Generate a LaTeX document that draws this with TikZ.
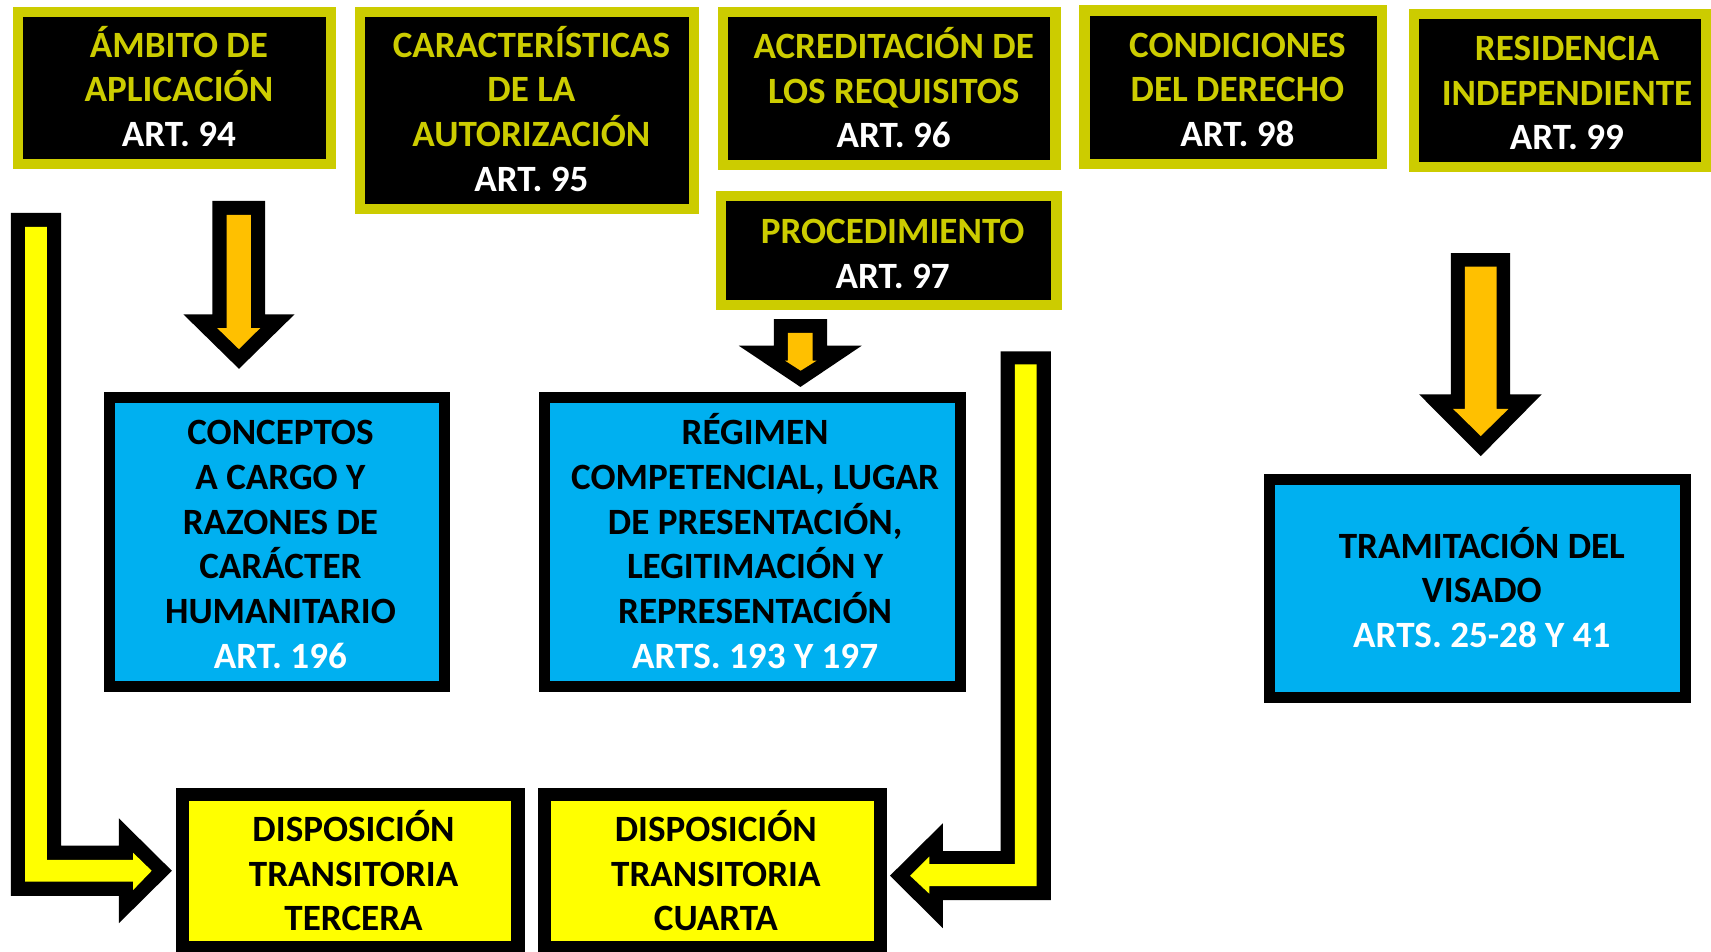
\documentclass[tikz,border=0pt]{standalone}
\usepackage{fontspec}
\setmainfont{Carlito}
\definecolor{ybord}{RGB}{204,204,0}
\definecolor{orng}{RGB}{255,192,0}
\definecolor{skyb}{RGB}{0,176,240}
\definecolor{yell}{RGB}{255,255,0}
\newcommand{\tstr}{\rule{0pt}{31.9pt}}
\newcommand{\bstr}{\rule[-10pt]{0pt}{10pt}}
\begin{document}
\begin{tikzpicture}[x=1pt,y=-1pt,
  topbox/.style={draw=ybord, fill=black, line width=9.5pt, inner sep=0pt},
  bluebox/.style={draw=black, fill=skyb, line width=10pt, inner sep=0pt},
  dtbox/.style={draw=black, fill=yell, line width=12.5pt, inner sep=0pt},
  txt/.style={align=center, inner sep=0pt, yshift=-1.5pt, font=\fontsize{34}{41}\selectfont\bfseries},
  toptxt/.style={txt, text=ybord},
  blktxt/.style={txt, text=black},
  outline/.style={fill=black},
  orfill/.style={fill=orng},
  yefill/.style={fill=yell}]
\fill[white] (0,0) rectangle (1568,872);
\useasboundingbox (0,0) rectangle (1568,872);

% top boxes
\node[topbox, minimum width=286.5pt, minimum height=139.5pt] (b1) at (160,80.5) {};
\node[topbox, minimum width=306.5pt, minimum height=180.5pt] (b2) at (483,101) {};
\node[topbox, minimum width=304.5pt, minimum height=140.5pt] (b3) at (815,81) {};
\node[topbox, minimum width=272.5pt, minimum height=140.5pt] (b4) at (1130,80) {};
\node[topbox, minimum width=267.5pt, minimum height=140.5pt] (b5) at (1429.5,83) {};
\node[topbox, minimum width=307.5pt, minimum height=99.5pt] (b6) at (814.5,229.5) {};

\node[toptxt] (t1) at (164,81) {\tstr ÁMBITO DE\\APLICACIÓN\\\textcolor{white}{ART. 94}\bstr};
\node[toptxt] (t2) at (487,101.5) {\tstr CARACTERÍSTICAS\\DE LA\\AUTORIZACIÓN\\\textcolor{white}{ART. 95}\bstr};
\node[toptxt] (t3) at (819,82) {\tstr ACREDITACIÓN DE\\LOS REQUISITOS\\\textcolor{white}{ART. 96}\bstr};
\node[toptxt] (t4) at (1134,81) {\tstr CONDICIONES\\DEL DERECHO\\\textcolor{white}{ART. 98}\bstr};
\node[toptxt] (t5) at (1436,84) {\tstr RESIDENCIA\\INDEPENDIENTE\\\textcolor{white}{ART. 99}\bstr};
\node[toptxt] (t6) at (818,231) {\tstr PROCEDIMIENTO\\\textcolor{white}{ART. 97}\bstr};

% blue boxes
\node[bluebox, minimum width=307pt, minimum height=265pt] (c1) at (253.5,496.5) {};
\node[bluebox, minimum width=381.4pt, minimum height=264.5pt] (c2) at (689.3,496.75) {};
\node[bluebox, minimum width=381.4pt, minimum height=200pt] (c3) at (1354.3,539.5) {};

\node[blktxt] (u1) at (257,497.5) {\tstr CONCEPTOS\\A CARGO Y\\RAZONES DE\\CARÁCTER\\HUMANITARIO\\\textcolor{white}{ART. 196}\bstr};
\node[blktxt] (u2) at (692,497.5) {\tstr RÉGIMEN\\COMPETENCIAL, LUGAR\\DE PRESENTACIÓN,\\LEGITIMACIÓN Y\\REPRESENTACIÓN\\\textcolor{white}{ARTS. 193 Y 197}\bstr};
\node[blktxt] (u3) at (1358,540) {\tstr TRAMITACIÓN DEL\\VISADO\\\textcolor{white}{ARTS. 25-28 Y 41}\bstr};

% bottom boxes
\node[dtbox, minimum width=307.5pt, minimum height=140pt] (d1) at (321,798.25) {};
\node[dtbox, minimum width=307.9pt, minimum height=140pt] (d2) at (652.8,798.25) {};
\node[blktxt] (v1) at (324,799.5) {\tstr DISPOSICIÓN\\TRANSITORIA\\TERCERA\bstr};
\node[blktxt] (v2) at (656,799.5) {\tstr DISPOSICIÓN\\TRANSITORIA\\CUARTA\bstr};

% block arrow 1
\fill[outline] (194.6,184) -- (243,184) -- (243,288) -- (270,288) -- (219,338) -- (168,288) -- (194.6,288) -- cycle;
\fill[orfill] (207.7,197) -- (230,197) -- (230,300.6) -- (238.5,300.6) -- (219,320) -- (199,300.6) -- (207.7,300.6) -- cycle;
% block arrow 2
\fill[outline] (709.3,292.5) -- (758,292.5) -- (758,316.8) -- (789.7,316.8) -- (733.5,354.6) -- (677,316.8) -- (709.3,316.8) -- cycle;
\fill[orfill] (722,305) -- (744.7,305) -- (744.7,330.5) -- (748.4,330.5) -- (733.7,339.7) -- (719.4,330.5) -- (722,330.5) -- cycle;
% block arrow 3
\fill[outline] (1329.7,232) -- (1383.8,232) -- (1383.8,361.4) -- (1412.8,361.4) -- (1357,418) -- (1300.5,361.4) -- (1329.7,361.4) -- cycle;
\fill[orfill] (1342.5,244.4) -- (1371.6,244.4) -- (1371.6,374.8) -- (1382.3,374.8) -- (1357,399.6) -- (1331.7,374.8) -- (1342.5,374.8) -- cycle;

% left L arrow
\fill[outline] (10,195) -- (56,195) -- (56,775) -- (109,775) -- (109,750) -- (157.5,798) -- (109,846) -- (109,821) -- (10,821) -- cycle;
\fill[yefill] (23,208) -- (43,208) -- (43,788) -- (122,788) -- (122,781.5) -- (139,798) -- (122,815.6) -- (122,808) -- (23,808) -- cycle;
% right L arrow
\fill[outline] (917,322) -- (963,322) -- (963,825) -- (864,825) -- (864,850.5) -- (815.6,802.5) -- (864,754.5) -- (864,780) -- (917,780) -- cycle;
\fill[yefill] (930,334) -- (950,334) -- (950,812) -- (851.6,812) -- (851.6,819) -- (834,802.5) -- (851.6,785) -- (851.6,792) -- (930,792) -- cycle;
\end{tikzpicture}
\end{document}
